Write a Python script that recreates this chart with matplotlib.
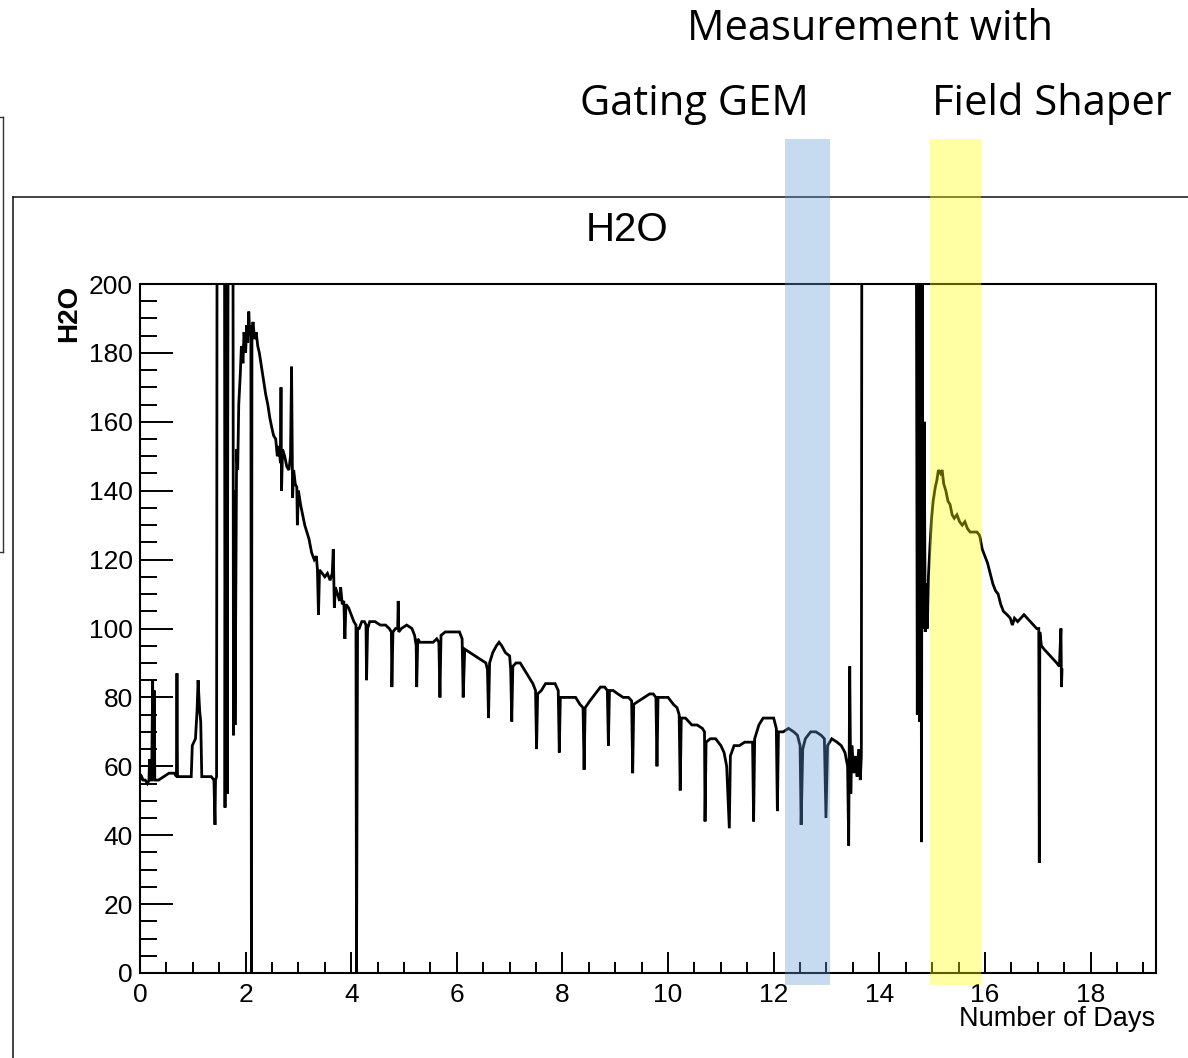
import matplotlib
matplotlib.use("Agg")
import matplotlib.pyplot as plt
from matplotlib.patches import Rectangle
from matplotlib.lines import Line2D
from matplotlib.transforms import blended_transform_factory
from matplotlib.ticker import MultipleLocator

# H2O reading vs time (days); values above 200 are off scale
days = [
    0.00, 0.03, 0.06, 0.10, 0.14, 0.17, 0.18, 0.19, 0.22, 0.24, 0.25, 0.27, 0.28, 0.35,
    0.45, 0.55, 0.65, 0.69, 0.70, 0.71, 0.80, 0.90, 0.97, 0.99, 1.05, 1.08, 1.10, 1.13,
    1.15, 1.17, 1.25, 1.35, 1.40, 1.42, 1.43, 1.45,
    1.46, 1.60, 1.61, 1.63, 1.65, 1.67, 1.76, 1.77, 1.79, 1.80, 1.82, 1.83, 1.85, 1.87,
    1.90, 1.92, 1.95, 1.97, 2.00, 2.02, 2.04, 2.06, 2.08, 2.10, 2.11, 2.12,
    2.14, 2.17, 2.20, 2.23, 2.26, 2.30, 2.34, 2.38, 2.42, 2.46, 2.50, 2.53, 2.57, 2.60,
    2.63, 2.66, 2.67, 2.68, 2.70, 2.74, 2.78, 2.82, 2.85, 2.87, 2.89, 2.91, 2.94, 2.97,
    2.98, 3.00, 3.04, 3.08, 3.12, 3.16, 3.20, 3.25, 3.30, 3.34, 3.36, 3.38, 3.40, 3.45,
    3.50, 3.55, 3.60, 3.64, 3.66, 3.68, 3.70, 3.74, 3.78, 3.80, 3.83, 3.86, 3.88, 3.90,
    3.95, 4.00, 4.05, 4.09, 4.10, 4.12,
    4.15, 4.20, 4.25, 4.28, 4.29, 4.31, 4.35, 4.45, 4.55, 4.65, 4.72, 4.76, 4.77, 4.79,
    4.84, 4.88, 4.89, 4.90, 4.95, 5.05, 5.15, 5.20, 5.23, 5.24, 5.26, 5.30, 5.38, 5.45,
    5.55, 5.62, 5.66, 5.68, 5.70, 5.78, 5.88, 5.98, 6.05, 6.10, 6.12, 6.15,
    6.25, 6.35, 6.45, 6.55, 6.58, 6.60, 6.62, 6.68, 6.75, 6.80, 6.85, 6.92, 7.00, 7.02,
    7.04, 7.06, 7.12, 7.20, 7.28, 7.36, 7.44, 7.49, 7.51, 7.53, 7.60, 7.68, 7.78, 7.86,
    7.92, 7.94, 7.96, 8.05, 8.15, 8.25, 8.33, 8.39, 8.41, 8.43, 8.52, 8.62, 8.72, 8.80,
    8.85, 8.87, 8.89, 8.96, 9.05, 9.15, 9.25, 9.31, 9.33, 9.35, 9.45, 9.55, 9.65, 9.72,
    9.77, 9.79, 9.81, 9.90, 10.00, 10.10, 10.17, 10.21, 10.23, 10.25, 10.33, 10.45, 10.55,
    10.65, 10.69, 10.70, 10.72, 10.80, 10.90, 11.00, 11.06, 11.11, 11.16, 11.18, 11.25,
    11.35, 11.45, 11.55, 11.60, 11.62, 11.64, 11.72, 11.80, 11.90, 12.00, 12.05, 12.07,
    12.09, 12.18, 12.28, 12.38, 12.45, 12.50, 12.52, 12.55, 12.60, 12.70, 12.80, 12.90,
    12.96, 12.99, 13.02, 13.10, 13.20, 13.28, 13.35, 13.40, 13.42, 13.44, 13.46, 13.48,
    13.52, 13.55, 13.58, 13.61, 13.64, 13.66, 13.67,
    14.70, 14.72, 14.74, 14.76, 14.78, 14.80, 14.81, 14.83, 14.85, 14.87, 14.89, 14.91,
    14.93, 14.96, 14.99, 15.02, 15.06, 15.09, 15.12, 15.16, 15.19, 15.22, 15.26, 15.30,
    15.34, 15.38, 15.42, 15.47, 15.52, 15.57, 15.62, 15.67, 15.72, 15.78, 15.85, 15.90,
    15.95, 16.00, 16.05, 16.10, 16.15, 16.20, 16.25, 16.30, 16.35, 16.42, 16.48, 16.52,
    16.56, 16.62, 16.68, 16.74, 16.80, 16.86, 16.92, 16.98, 17.02, 17.03, 17.04, 17.07,
    17.12, 17.18, 17.24, 17.30, 17.36, 17.41, 17.44, 17.45, 17.46,
]
h2o = [
    56, 57, 56, 56, 55, 56, 62, 56, 56, 85, 56, 82, 56, 56,
    57, 58, 58, 57, 87, 57, 57, 57, 57, 66, 68, 76, 85, 76,
    73, 57, 57, 57, 56, 43, 56, 57,
    230, 230, 48, 230, 52, 230, 230, 69, 140, 72, 125, 152, 146, 165,
    174, 182, 177, 186, 180, 188, 183, 192, 185, 188, 0, 186,
    189, 184, 186, 182, 180, 176, 172, 168, 165, 161, 158, 156, 155, 150,
    153, 148, 170, 140, 152, 150, 147, 146, 150, 176, 138, 146, 142, 141,
    130, 140, 136, 133, 130, 128, 126, 122, 120, 121, 117, 104, 117, 116,
    115, 116, 114, 116, 123, 106, 112, 110, 108, 112, 107, 108, 97, 107,
    106, 104, 102, 101, 0, 100,
    100, 102, 102, 101, 85, 100, 102, 102, 101, 101, 100, 99, 83, 99,
    100, 100, 108, 99, 100, 101, 100, 98, 95, 83, 97, 96, 96, 96,
    96, 97, 96, 80, 98, 99, 99, 99, 99, 97, 80, 94,
    93, 92, 91, 90, 88, 74, 90, 93, 95, 96, 95, 93, 92, 88,
    73, 89, 90, 90, 88, 86, 84, 82, 65, 81, 82, 84, 84, 84,
    82, 64, 80, 80, 80, 80, 78, 77, 59, 77, 79, 81, 83, 83,
    82, 66, 82, 82, 81, 80, 80, 79, 58, 78, 79, 80, 81, 81,
    80, 60, 80, 80, 80, 78, 77, 75, 53, 74, 74, 72, 72,
    71, 70, 44, 67, 68, 68, 66, 64, 60, 42, 63, 66,
    66, 67, 67, 67, 44, 68, 72, 74, 74, 74, 71, 47,
    70, 70, 71, 70, 69, 66, 43, 65, 68, 70, 70, 69,
    68, 45, 66, 68, 67, 66, 64, 60, 37, 89, 52, 66,
    58, 63, 57, 65, 56, 63, 230,
    230, 75, 230, 73, 230, 38, 230, 100, 160, 99, 113, 100,
    115, 124, 132, 137, 141, 143, 146, 145, 146, 142, 140, 137,
    136, 133, 132, 133, 131, 130, 131, 129, 128, 128, 128, 127,
    123, 121, 119, 116, 113, 111, 110, 107, 105, 104, 103, 101,
    103, 102, 103, 104, 103, 102, 101, 100, 100, 32, 99, 95,
    94, 93, 92, 91, 90, 89, 100, 83, 88,
]

# highlighted measurement periods (days)
gating_gem = (12.22, 13.07)
field_shaper = (14.96, 15.93)

W, H = 1188, 1058
fig = plt.figure(figsize=(W / 100, H / 100), dpi=100)
fig.patch.set_facecolor("white")

ax = fig.add_axes([140 / W, 1 - 973 / H, (1156 - 140) / W, (973 - 284) / H])
ax.plot(days, h2o, color="black", lw=2.0, solid_joinstyle="miter")
ax.set_xlim(0, 19.24)
ax.set_ylim(0, 200)

ax.xaxis.set_major_locator(MultipleLocator(2))
ax.xaxis.set_minor_locator(MultipleLocator(0.5))
ax.yaxis.set_major_locator(MultipleLocator(20))
ax.yaxis.set_minor_locator(MultipleLocator(5))
ax.tick_params(which="both", direction="in", top=False, right=False, width=1.4)
ax.tick_params(axis="y", which="major", length=23.5, pad=5, labelsize=19)
ax.tick_params(axis="y", which="minor", length=12)
ax.tick_params(axis="x", which="major", length=15, pad=7, labelsize=19)
ax.tick_params(axis="x", which="minor", length=8)
for lab in ax.get_xticklabels() + ax.get_yticklabels():
    lab.set_family("Liberation Sans")
for sp in ax.spines.values():
    sp.set_linewidth(1.5)

# ROOT style titles
fig.text(627 / W, 1 - 230 / H, "H2O", ha="center", va="center",
         fontsize=29, family="Liberation Sans")
fig.text(69 / W, 1 - 285 / H, "H2O", ha="center", va="top", rotation=90,
         fontsize=20, family="Liberation Sans", weight="bold")
fig.text(1155 / W, 1 - 1026 / H, "Number of Days", ha="right", va="baseline",
         fontsize=19.5, family="Liberation Sans")

# canvas frame and the edge of a neighbouring box
fig.add_artist(Line2D([13 / W, 13 / W], [0, 1 - 197 / H], color="#222222", lw=1.2))
fig.add_artist(Line2D([13 / W, 1], [1 - 197 / H, 1 - 197 / H], color="#222222", lw=1.2))
fig.add_artist(Line2D([2.5 / W, 2.5 / W], [1 - 552 / H, 1 - 117 / H], color="#333333", lw=1.0))
fig.add_artist(Line2D([0, 2.5 / W], [1 - 117 / H, 1 - 117 / H], color="#333333", lw=1.0))
fig.add_artist(Line2D([0, 2.5 / W], [1 - 552 / H, 1 - 552 / H], color="#333333", lw=1.0))

# shaded bands over the plot
tr = blended_transform_factory(ax.transData, fig.transFigure)
y0, y1 = 1 - 985 / H, 1 - 139 / H
fig.add_artist(Rectangle((gating_gem[0], y0), gating_gem[1] - gating_gem[0], y1 - y0,
                         transform=tr, facecolor=(0.38, 0.6, 0.84), alpha=0.36, lw=0, zorder=5))
fig.add_artist(Rectangle((field_shaper[0], y0), field_shaper[1] - field_shaper[0], y1 - y0,
                         transform=tr, facecolor=(1.0, 1.0, 0.0), alpha=0.36, lw=0, zorder=5))

# annotations
fig.text(870 / W, 1 - 29 / H, "Measurement with", ha="center", va="center",
         fontsize=30, family="Open Sans")
fig.text(694 / W, 1 - 104 / H, "Gating GEM", ha="center", va="center",
         fontsize=30, family="Open Sans")
fig.text(1052 / W, 1 - 104 / H, "Field Shaper", ha="center", va="center",
         fontsize=30, family="Open Sans")

fig.savefig("out.png", dpi=100)
